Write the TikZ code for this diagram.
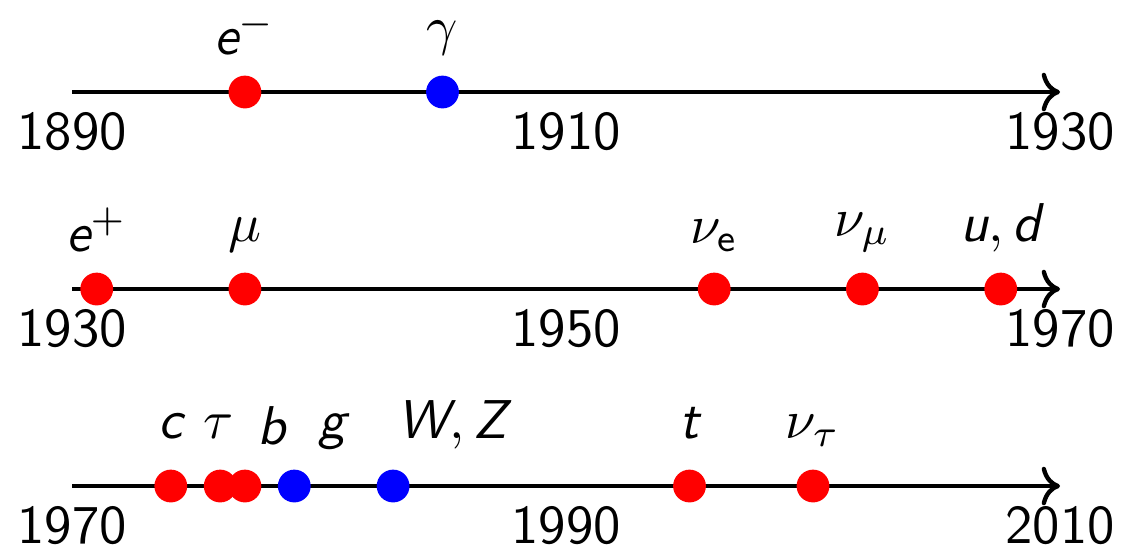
\documentclass[tikz,border=0pt]{standalone}
\usepackage{amsmath}
\usepackage{tikz}
\usetikzlibrary{arrows.meta, positioning}
\renewcommand{\familydefault}{\sfdefault}
\newcommand{\pit}[1]{\textsf{\itshape #1}}

\begin{document}
\begin{tikzpicture}[
    x=4.52pt, y=36.05pt,
    node distance=0pt,
    timeline/.style={->, thick},
    year/.style={below, inner sep=3.6pt},
    fermion/.style={circle, fill=red, inner sep=0pt, minimum size=6pt},
    boson/.style={circle, fill=blue, inner sep=0pt, minimum size=6pt},
    particle/.style={inner sep=3.33pt},
    particlelow/.style={inner sep=3.33pt, text depth=0.2em}
]
\useasboundingbox (-2.915,0.467) rectangle (42.47,-2.325);

% 1890 -- 1930
\coordinate (s1) at (0,0);
\coordinate (e1) at (40,0);
\draw[timeline] (s1) -- (e1);
\node[year] (y1890) at (s1) {1890};
\node[year] (y1910) at (20,0) {1910};
\node[year] (y1930a) at (e1) {1930};
\node[fermion] (eminus) at (7,0) {};
\node[boson] (gamma) at (15,0) {};
\node[particle, above=of eminus] (leminus) {$\pit{e}^-$};
\node[particle, above=of gamma] (lgamma) {$\gamma$};

% 1930 -- 1970
\coordinate (s2) at (0,-1);
\coordinate (e2) at (40,-1);
\draw[timeline] (s2) -- (e2);
\node[year] (y1930b) at (s2) {1930};
\node[year] (y1950) at (20,-1) {1950};
\node[year] (y1970a) at (e2) {1970};
\node[fermion] (eplus) at (1,-1) {};
\node[fermion] (muon) at (7,-1) {};
\node[fermion] (nue) at (26,-1) {};
\node[fermion] (numu) at (32,-1) {};
\node[fermion] (ud) at (37.6,-1) {};
\node[particle, above=of eplus] (leplus) {$\pit{e}^+$};
\node[particle, above=of muon] (lmuon) {$\mu$};
\node[particle, above=of nue] (lnue) {$\nu_{\textsf{e}}$};
\node[particle, above=of numu] (lnumu) {$\nu_\mu$};
\node[particle, above=of ud] (lud) {$\pit{u}, \pit{d}$};

% 1970 -- 2010, labels pushed apart where the dots crowd
\coordinate (s3) at (0,-2);
\coordinate (e3) at (40,-2);
\draw[timeline] (s3) -- (e3);
\node[year] (y1970b) at (s3) {1970};
\node[year] (y1990) at (20,-2) {1990};
\node[year] (y2010) at (e3) {2010};
\node[fermion] (charm) at (4,-2) {};
\node[fermion] (tau) at (6,-2) {};
\node[fermion] (bottom) at (7,-2) {};
\node[boson] (gluon) at (9,-2) {};
\node[boson] (wz) at (13,-2) {};
\node[fermion] (top) at (25,-2) {};
\node[fermion] (nutau) at (30,-2) {};
\node[particlelow, above=of charm] (lcharm) {$\pit{c}$};
\node[particlelow, above=of tau, xshift=-0.3pt] (ltau) {$\tau$};
\node[particlelow, above=of bottom, xshift=4.9pt, yshift=-1.2pt] (lbottom) {$\pit{b}$};
\node[particlelow, above=of gluon, xshift=7pt] (lgluon) {$\pit{g}$};
\node[particlelow, above=of wz, xshift=10.8pt] (lwz) {$\pit{W}, \pit{Z}$};
\node[particlelow, above=of top] (ltop) {$\pit{t}$};
\node[particlelow, above=of nutau] (lnutau) {$\nu_\tau$};
\end{tikzpicture}
\end{document}
